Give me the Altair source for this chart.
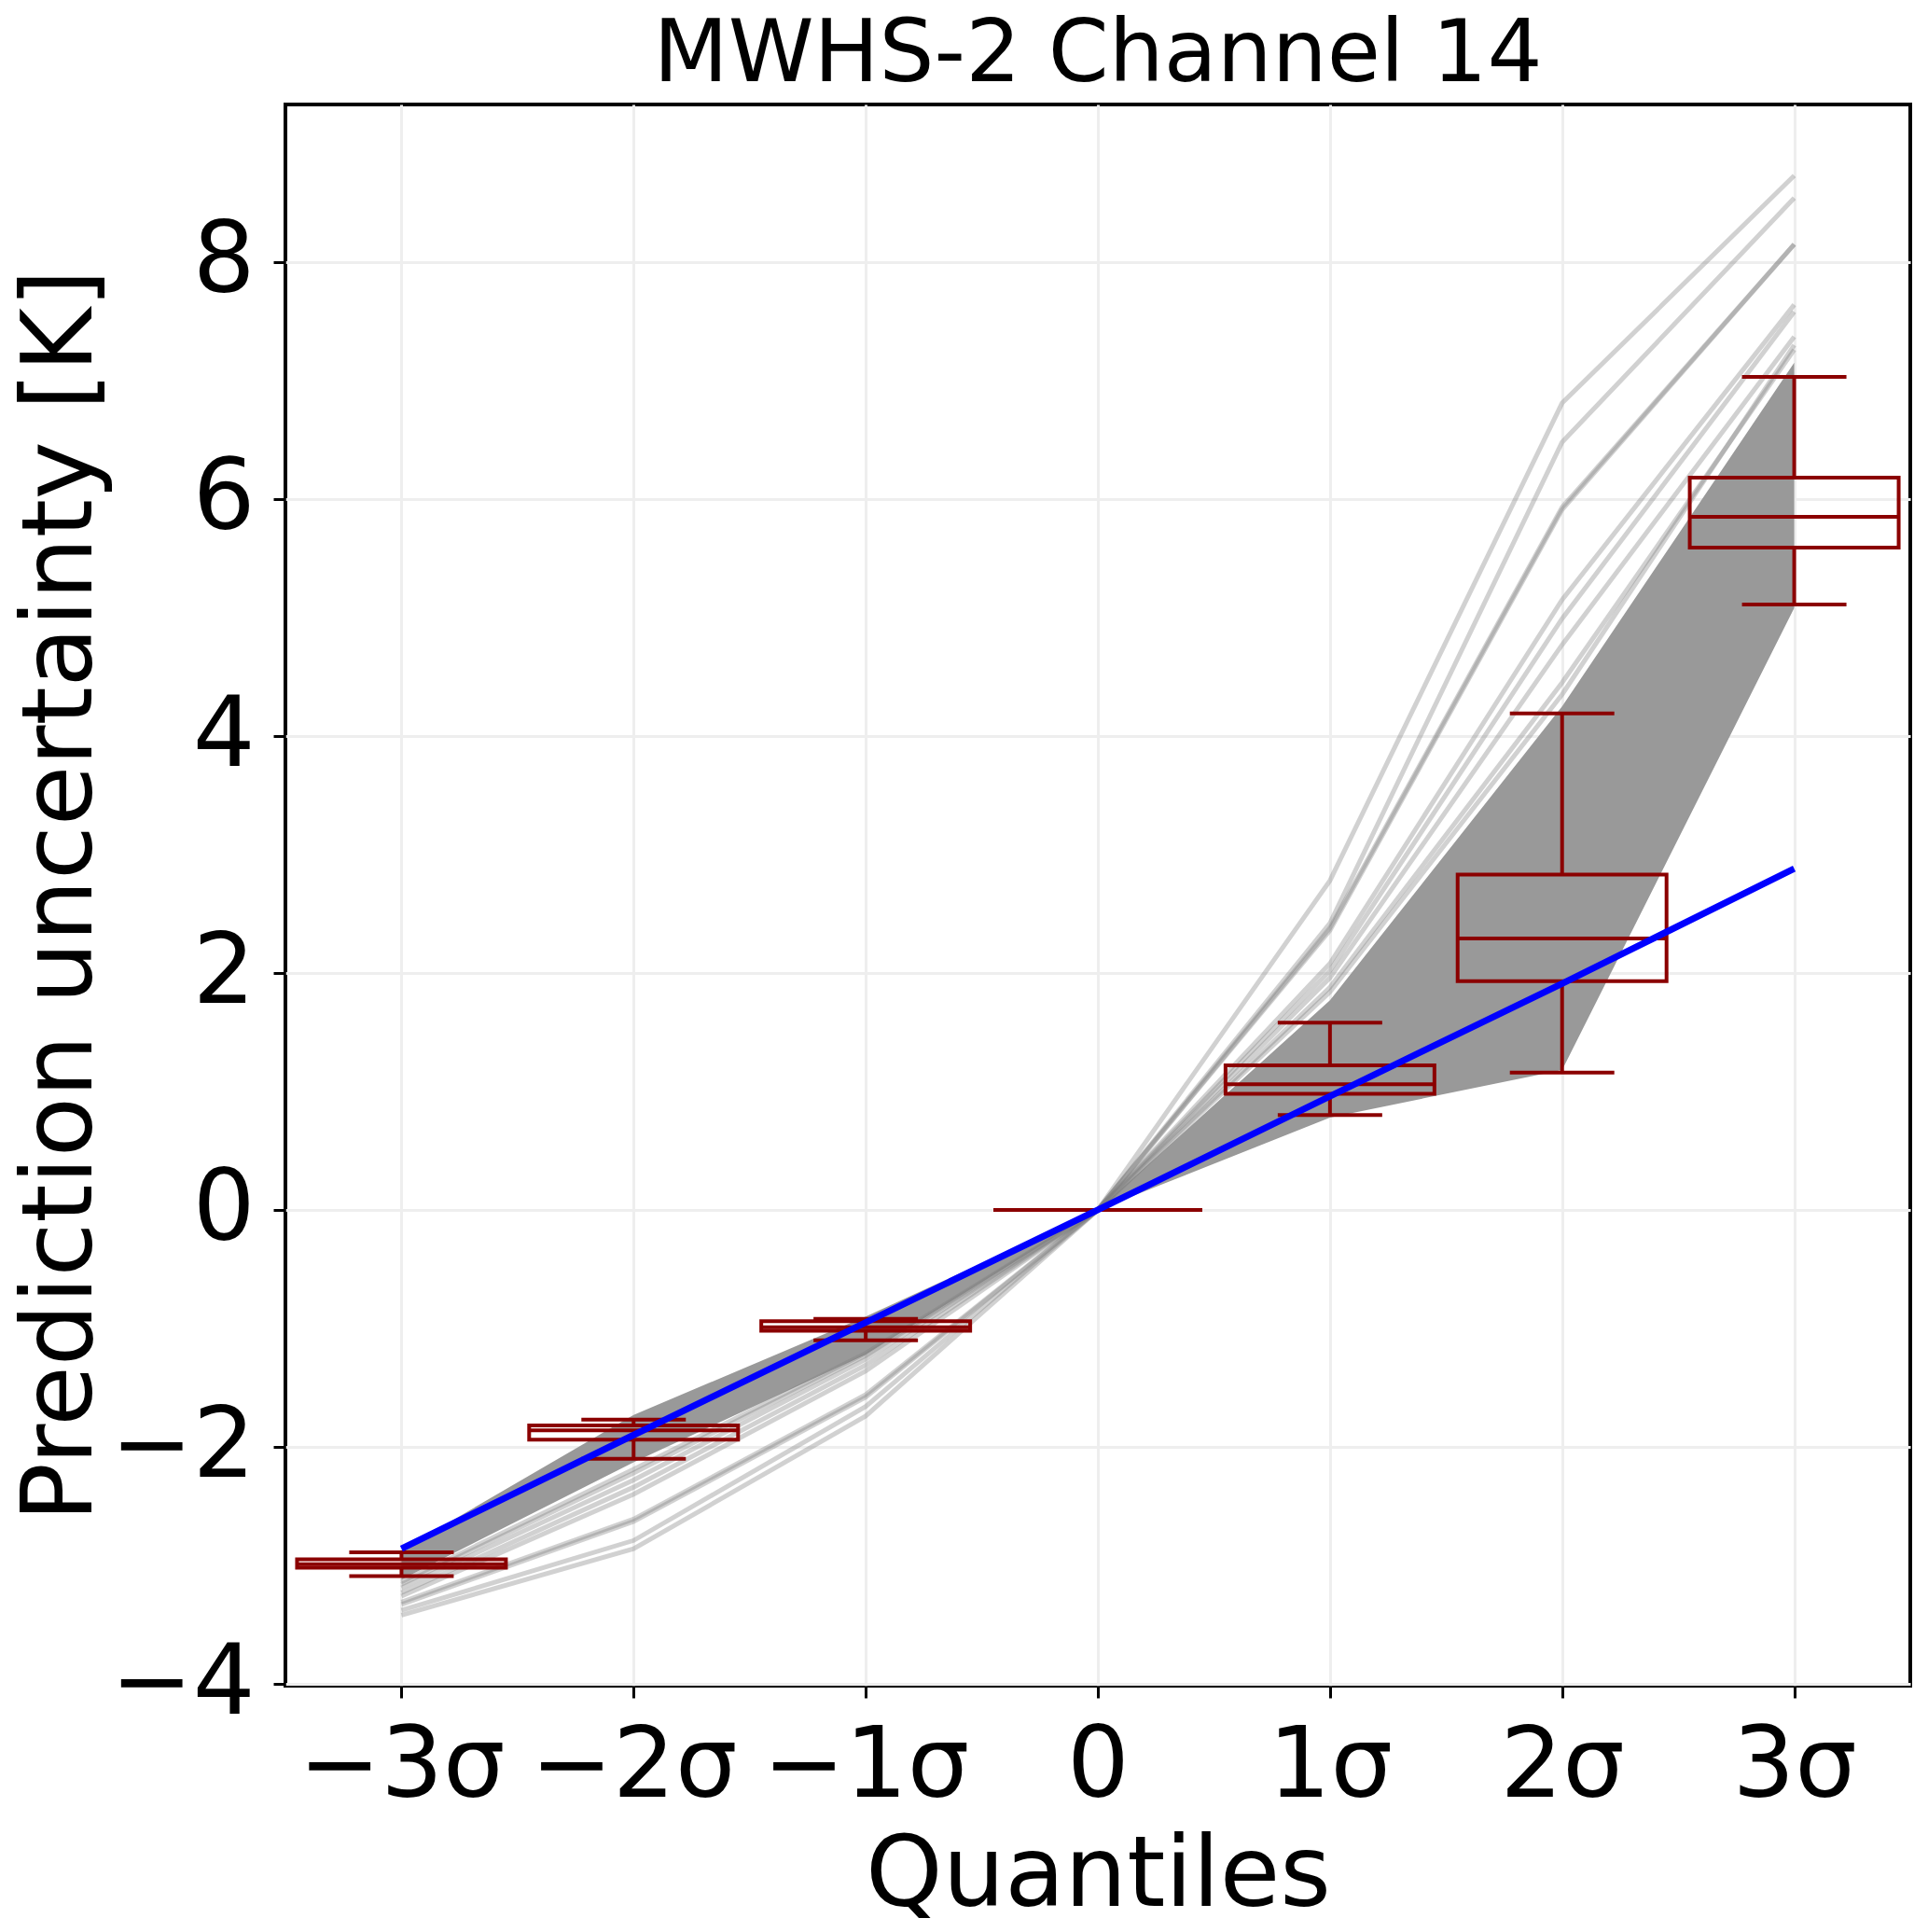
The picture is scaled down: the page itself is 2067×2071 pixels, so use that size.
import altair as alt
import pandas as pd

# x positions of the quantiles and their tick labels
quantiles = [-3, -2, -1, 0, 1, 2, 3]
x_tick_labels = ["−3σ", "−2σ", "−1σ", "0", "1σ", "2σ", "3σ"]
y_ticks = [-4, -2, 0, 2, 4, 6, 8]

# envelope of the dense bundle of gray curves
band_low = [-3.12, -2.13, -1.22, 0.0, 0.78, 1.18, 5.08]
band_high = [-2.87, -1.73, -0.90, 0.0, 1.77, 4.25, 7.15]

# outlying individual curves (light gray)
curve_names = ["c1", "c2", "c3", "c4", "c5", "c6", "c7", "c8", "c9"]
curve_values = [
    [-3.42, -2.86, -1.74, 0.0, 2.78, 6.81, 8.73],
    [-3.38, -2.79, -1.66, 0.0, 2.42, 6.48, 8.54],
    [-3.33, -2.63, -1.58, 0.0, 2.38, 5.93, 8.15],
    [-3.31, -2.61, -1.56, 0.0, 2.36, 5.91, 8.15],
    [-3.26, -2.40, -1.36, 0.0, 2.08, 5.15, 7.64],
    [-3.23, -2.34, -1.31, 0.0, 2.02, 4.99, 7.58],
    [-3.19, -2.28, -1.26, 0.0, 1.96, 4.77, 7.37],
    [-3.16, -2.22, -1.23, 0.0, 1.88, 4.45, 7.26],
    [-3.14, -2.19, -1.21, 0.0, 1.84, 4.35, 7.30],
]

# box plot statistics per quantile
whisker_low = [-3.09, -2.10, -1.10, 0.0, 0.80, 1.16, 5.11]
box_q1 = [-3.02, -1.94, -1.02, 0.0, 0.98, 1.93, 5.59]
box_median = [-2.99, -1.86, -0.99, 0.0, 1.06, 2.29, 5.85]
box_q3 = [-2.95, -1.82, -0.94, 0.0, 1.22, 2.83, 6.18]
whisker_high = [-2.89, -1.77, -0.92, 0.0, 1.58, 4.19, 7.03]

# reference (ideal) line
ideal = [-2.86, -1.90, -0.95, 0.0, 0.96, 1.91, 2.88]

W, H = 1742, 1695
FONT = "DejaVu Sans"
RED = "#8b0000"

band_df = pd.DataFrame({"q": quantiles, "lo": band_low, "hi": band_high})
curves_df = pd.DataFrame(
    [{"curve": n, "q": q, "v": v}
     for n, vals in zip(curve_names, curve_values)
     for q, v in zip(quantiles, vals)]
)
box_df = pd.DataFrame({
    "q": quantiles, "wlo": whisker_low, "q1": box_q1,
    "med": box_median, "q3": box_q3, "whi": whisker_high,
})
ideal_df = pd.DataFrame({"q": quantiles, "v": ideal})

label_expr = " : ".join(
    f"datum.value == {q} ? '{lab}'" for q, lab in zip(quantiles, x_tick_labels)
) + " : ''"

x_scale = alt.Scale(domain=[-3.5, 3.5], nice=False, zero=False)
y_scale = alt.Scale(domain=[-4.016, 9.33], nice=False, zero=False)

x_axis = alt.Axis(
    values=quantiles, labelExpr=label_expr, title="Quantiles",
    titleX=W / 2, titleY=235, titleAlign="center", titleBaseline="alphabetic",
    labelPadding=22, labelLimit=1000,
)
y_axis = alt.Axis(
    values=y_ticks, title="Prediction uncertainty [K]",
    labelExpr="replace(format(datum.value, 'd'), '-', '−')",
    titleX=-209, titleY=H / 2, titleAngle=270, titleAlign="center",
    titleBaseline="alphabetic", labelPadding=20, labelLimit=1000,
)


def X(field):
    return alt.X(field, type="quantitative", scale=x_scale, axis=x_axis)


def Y(field):
    return alt.Y(field, type="quantitative", scale=y_scale, axis=y_axis)


band = alt.Chart(band_df).mark_area(color="#999999", opacity=1).encode(
    x=X("q"), y=Y("lo"), y2="hi"
)

curves = alt.Chart(curves_df).mark_line(
    color="#808080", opacity=0.36, strokeWidth=5
).encode(x=X("q"), y=Y("v"), detail="curve:N")

box_base = alt.Chart(box_df).transform_calculate(
    bl="datum.q - 0.45", br="datum.q + 0.45",
    cl="datum.q - 0.225", cr="datum.q + 0.225",
)

SW = 4
boxes = box_base.mark_rect(
    fillOpacity=0, stroke=RED, strokeWidth=SW
).encode(x=X("bl:Q"), x2="br:Q", y=Y("q1:Q"), y2="q3:Q")

medians = box_base.mark_rule(color=RED, strokeWidth=SW).encode(
    x=X("bl:Q"), x2="br:Q", y=Y("med:Q")
)

whisk_lo = box_base.mark_rule(color=RED, strokeWidth=SW).encode(
    x=X("q:Q"), y=Y("wlo:Q"), y2="q1:Q"
)
whisk_hi = box_base.mark_rule(color=RED, strokeWidth=SW).encode(
    x=X("q:Q"), y=Y("q3:Q"), y2="whi:Q"
)
cap_lo = box_base.mark_rule(color=RED, strokeWidth=SW).encode(
    x=X("cl:Q"), x2="cr:Q", y=Y("wlo:Q")
)
cap_hi = box_base.mark_rule(color=RED, strokeWidth=SW).encode(
    x=X("cl:Q"), x2="cr:Q", y=Y("whi:Q")
)

ideal_line = alt.Chart(ideal_df).mark_line(color="#0000ff", strokeWidth=7).encode(
    x=X("q"), y=Y("v")
)

chart = alt.layer(
    band, curves, boxes, medians, whisk_lo, whisk_hi, cap_lo, cap_hi, ideal_line
).properties(
    width=W,
    height=H,
    autosize=alt.AutoSizeParams(type="none"),
    padding={"left": 298, "top": 104, "right": 11, "bottom": 285},
    title=alt.TitleParams(
        "MWHS-2 Channel 14", font=FONT, fontSize=93, fontWeight="normal",
        anchor="middle", offset=5, color="black",
    ),
).configure_view(
    stroke="black", strokeWidth=4
).configure_axis(
    labelFont=FONT, titleFont=FONT, labelFontSize=105, titleFontSize=105,
    labelColor="black", titleColor="black", titleFontWeight="normal",
    tickColor="black", tickWidth=3, tickSize=13, domain=False,
    gridColor="#eeeeee", gridWidth=3,
)

chart.save("out.html", embed_options={"renderer": "svg", "actions": False})
